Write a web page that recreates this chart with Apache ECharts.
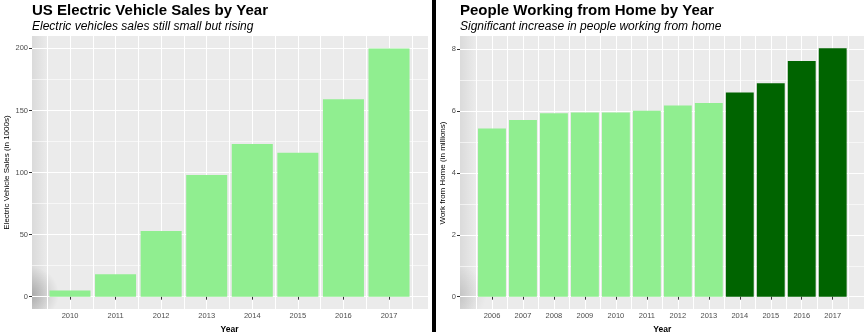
<!DOCTYPE html>
<html><head><meta charset="utf-8">
<script src="https://cdn.jsdelivr.net/npm/echarts@6/dist/echarts.min.js"></script>
<style>html,body{margin:0;padding:0;background:#fff}#c{width:868px;height:332px}</style>
</head><body><div id="c"></div>
<script>
// ---- data ----
const evYears = ['2010','2011','2012','2013','2014','2015','2016','2017'];
const evSales = [5, 18, 53, 98, 123, 116, 159, 200];
const evTicks = [0, 50, 100, 150, 200];
const wfhYears = ['2006','2007','2008','2009','2010','2011','2012','2013','2014','2015','2016','2017'];
const wfhMillions = [5.44, 5.71, 5.93, 5.96, 5.96, 6.01, 6.18, 6.26, 6.60, 6.90, 7.62, 8.03];
const wfhTicks = [0, 2, 4, 6, 8];
const wfhHighlightFrom = '2014';

const FONT = '"Liberation Sans", Arial, Helvetica, sans-serif';
const LIGHT = '#90EE90', DARK = '#006400';

const panels = [
  { title: 'US Electric Vehicle Sales by Year', sub: 'Electric vehicles sales still small but rising',
    yName: 'Electric Vehicle Sales (in 1000s)', yGap: 21,
    cats: evYears, vals: evSales, ticks: evTicks,
    panel: [32, 36, 396, 273], barX: [47.2, 364.6], zeroY: 296.7, topTickY: 48.4, shade: 0.22,
    color: () => LIGHT },
  { title: 'People Working from Home by Year', sub: 'Significant increase in people working from home',
    yName: 'Work from Home (in millions)', yGap: 13,
    cats: wfhYears, vals: wfhMillions, ticks: wfhTicks,
    panel: [460, 36, 404, 273], barX: [476.5, 371.7], zeroY: 296.7, topTickY: 49.3, shade: 0.1,
    color: (p) => (wfhYears[p.dataIndex] >= wfhHighlightFrom ? DARK : LIGHT) }
];

const option = { animation: false, backgroundColor: '#fff', title: [], grid: [], xAxis: [], yAxis: [], series: [], graphic: [] };

panels.forEach((P, k) => {
  const [px, py, pw, ph] = P.panel;
  const tMin = P.ticks[0], tMax = P.ticks[P.ticks.length - 1], tInt = P.ticks[1] - P.ticks[0];
  const ppu = (P.zeroY - P.topTickY) / (tMax - tMin);
  const yMin = -(py + ph - P.zeroY) / ppu;
  const yMax = tMax + (P.topTickY - py) / ppu;
  const g0 = option.grid.length;

  option.graphic.push({ type: 'rect', z: -10, shape: { x: px, y: py, width: pw, height: ph }, style: { fill: '#EBEBEB' } });
  // soft shading along the left edge of the panel (as in the reference)
  option.graphic.push({ type: 'rect', z: -9, shape: { x: px, y: py, width: 16, height: ph },
    style: { fill: { type: 'linear', x: 0, y: 0, x2: 1, y2: 0, colorStops: [
      { offset: 0, color: 'rgba(0,0,0,0.07)' }, { offset: 1, color: 'rgba(0,0,0,0)' } ] } } });
  option.graphic.push({ type: 'rect', z: -9, shape: { x: px, y: py + ph - 60, width: 30, height: 60 },
    style: { fill: { type: 'radial', x: 0, y: 0.75, r: 0.9, colorStops: [
      { offset: 0, color: 'rgba(0,0,0,' + P.shade + ')' }, { offset: 1, color: 'rgba(0,0,0,0)' } ] } } });

  option.title.push({
    text: P.title, subtext: P.sub, left: px, top: 3, itemGap: 3, padding: 0,
    textStyle: { fontFamily: FONT, fontSize: 15, fontWeight: 'bold', color: '#000' },
    subtextStyle: { fontFamily: FONT, fontSize: 12, fontStyle: 'italic', color: '#000' }
  });

  // grid for horizontal grid lines + y tick labels
  option.grid.push({ left: px, top: P.topTickY, width: pw, height: P.zeroY - P.topTickY, outerBoundsMode: 'none', containLabel: false });
  // grid for bars + vertical lines
  option.grid.push({ left: P.barX[0], top: py, width: P.barX[1], height: ph, outerBoundsMode: 'none', containLabel: false });

  const x0 = option.xAxis.length, y0 = option.yAxis.length;
  option.xAxis.push({ type: 'value', gridIndex: g0, show: false });
  option.xAxis.push({
    type: 'category', gridIndex: g0 + 1, data: P.cats, boundaryGap: true, position: 'bottom',
    name: 'Year', nameLocation: 'middle', nameGap: 8.5,
    nameTextStyle: { fontFamily: FONT, fontSize: 8.5, fontWeight: 'bold', color: '#000' },
    axisLine: { show: false },
    axisTick: { show: true, alignWithLabel: true, length: 3, lineStyle: { color: '#333', width: 1 } },
    axisLabel: { fontFamily: FONT, fontSize: 7.5, color: '#4D4D4D', margin: 3 },
    splitLine: { show: false }
  });
  option.xAxis.push({
    type: 'value', gridIndex: g0 + 1, position: 'top', min: -0.5, max: P.cats.length - 0.5, interval: 0.5,
    axisLine: { show: false }, axisTick: { show: false }, axisLabel: { show: false },
    splitLine: { show: true, lineStyle: { color: '#FFFFFF', width: 1 } }
  });

  option.yAxis.push({
    type: 'value', gridIndex: g0, min: tMin, max: tMax, interval: tInt,
    name: P.yName, nameLocation: 'middle', nameGap: P.yGap,
    nameTextStyle: { fontFamily: FONT, fontSize: 8, color: '#000' },
    axisLine: { show: false },
    axisTick: { show: true, length: 3, lineStyle: { color: '#333', width: 1 } },
    axisLabel: { fontFamily: FONT, fontSize: 7.5, color: '#4D4D4D', margin: 4 },
    splitLine: { show: true, lineStyle: { color: '#FFFFFF', width: 1.2 } },
    minorTick: { show: false, splitNumber: 2 },
    minorSplitLine: { show: true, lineStyle: { color: '#FFFFFF', width: 0.6 } }
  });
  option.yAxis.push({ type: 'value', gridIndex: g0 + 1, min: yMin, max: yMax, show: false });

  option.series.push({
    type: 'bar', xAxisIndex: x0 + 1, yAxisIndex: y0 + 1, data: P.vals,
    barCategoryGap: '10%', itemStyle: { color: P.color }, z: 5
  });
});

// divider
option.graphic.push({ type: 'rect', z: 100, shape: { x: 432, y: 0, width: 4, height: 332 }, style: { fill: '#000' } });

const chart = echarts.init(document.getElementById('c'), null, { renderer: 'canvas' });
chart.setOption(option);
</script>
</body></html>
